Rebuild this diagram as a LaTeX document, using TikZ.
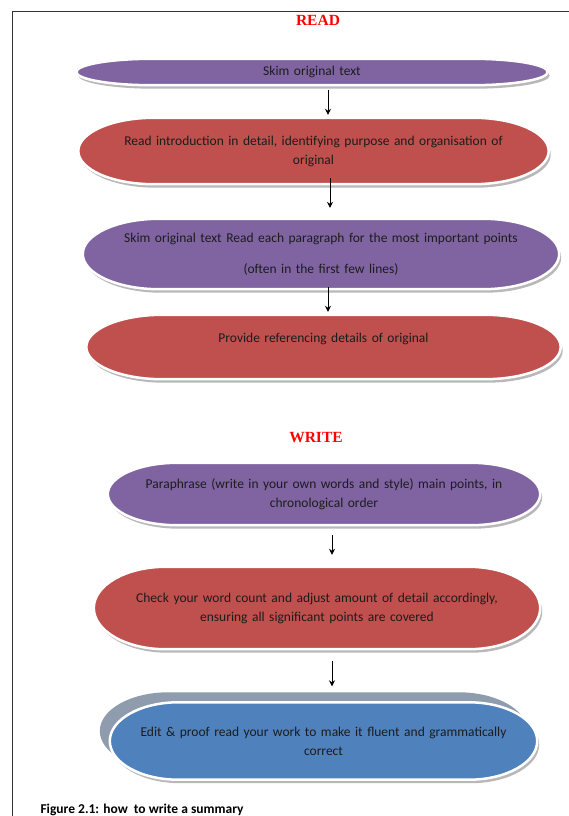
\documentclass[tikz,border=0pt]{standalone}
\usepackage{fontspec}
\setmainfont{Carlito}
\newfontfamily\titlefont{Liberation Serif}
\usetikzlibrary{positioning,calc,backgrounds,arrows.meta}

\definecolor{stepPurple}{HTML}{8064A2}
\definecolor{stepRed}{HTML}{C0504D}
\definecolor{stepBlue}{HTML}{4F81BD}
\definecolor{backGray}{HTML}{8E9CAE}
\definecolor{inkText}{HTML}{1C1C1C}

\tikzset{
    >=Stealth,
    flow/.style = {draw, -{Stealth[length=6pt,width=6pt]}, line width=0.9pt},
    stage/.style = {text width=#1, align=center, inner sep=0pt,
                    font=\fontsize{13.5}{19}\selectfont, text=inkText},
    heading/.style = {font=\titlefont\bfseries\fontsize{15.5}{17}\selectfont, text=red},
    glow/.style = {fill=black!28},
    rim/.style = {draw=white, line width=2.5pt},
}

% terminator outline round a node: elliptic ends, moved by (#3,#4)
\newcommand\stadium[4]{%
    \path[#2] let \p1=(#1.south west), \p2=(#1.north east),
        \n1={0.16*(\x2-\x1)}, \n2={(\y2-\y1)/2} in
        (\x1+\n1+#3,\y1+#4) -- (\x2-\n1+#3,\y1+#4)
        arc[start angle=-90, end angle=90, x radius=\n1, y radius=\n2]
        -- (\x1+\n1+#3,\y2+#4)
        arc[start angle=90, end angle=270, x radius=\n1, y radius=\n2] -- cycle;}

\begin{document}
\begin{tikzpicture}[x=1pt, y=1pt]
    \useasboundingbox (0,0) rectangle (569,-816);
    \draw[line width=0.8pt, black!80] (569,-11) -- (12,-11) -- (12,-816);

    \node[heading] (read) at (318,-20) {READ};
    \node[stage=471pt, minimum height=26pt] (s1) at (312,-72) {Skim original text};
    \node[stage=470pt, minimum height=66pt] (s2) at (313.5,-151)
        {Read introduction in detail, identifying purpose and organisation of\\ original};
    \node[stage=476pt, minimum height=70pt,
          font=\fontsize{13.5}{31}\selectfont] (s3) at (321,-254)
        {Skim original text Read each paragraph for the most important points\\
         (often in the first few lines)};
    \node[stage=474pt, minimum height=64pt] (s4) at (323.5,-347)
        {Provide referencing details of original\\ \mbox{}};

    \node[heading] (write) at (316,-438) {WRITE};
    \node[stage=432pt, minimum height=62pt] (s5) at (324,-494)
        {Paraphrase (write in your own words and style) main points, in\\ chronological order};
    \node[stage=446pt, minimum height=82pt] (s6) at (317,-608)
        {Check your word count and adjust amount of detail accordingly,\\
         ensuring all significant points are covered};
    \node[stage=427pt, minimum height=77pt] (s7) at (323.5,-741)
        {Edit \& proof read your work to make it fluent and grammatically\\ correct};

    \node[anchor=west, font=\bfseries\fontsize{13.5}{15}\selectfont] (caption)
        at (37,-810) {Figure 2.1: how\ \ to write a summary};

    \begin{scope}[on background layer]
        \stadium{s7}{fill=backGray}{-10pt}{10pt}
        \foreach \s/\c in {s1/stepPurple, s2/stepRed, s3/stepPurple, s4/stepRed,
                           s5/stepPurple, s6/stepRed, s7/stepBlue} {
            \stadium{\s}{glow}{2pt}{-3.5pt}
            \stadium{\s}{fill=\c, rim}{0pt}{0pt}
        }
    \end{scope}

    \draw[flow, shorten <=5pt, shorten >=3pt]
        ([xshift=16pt]s1.south) -- ([xshift=16pt]s1.south |- s2.north);
    \draw[flow, shorten <=-6pt, shorten >=11pt]
        ([xshift=16.5pt]s2.south) -- ([xshift=16.5pt]s2.south |- s3.north);
    \draw[flow, shorten <=-2pt, shorten >=3pt]
        ([xshift=7pt]s3.south) -- ([xshift=7pt]s3.south |- s4.north);
    \draw[flow, shorten <=10pt, shorten >=12pt]
        ([xshift=8pt]s5.south) -- ([xshift=8pt]s5.south |- s6.north);
    \draw[flow, shorten <=12pt, shorten >=16pt]
        ([xshift=15pt]s6.south) -- ([xshift=15pt]s6.south |- s7.north);
\end{tikzpicture}
\end{document}
